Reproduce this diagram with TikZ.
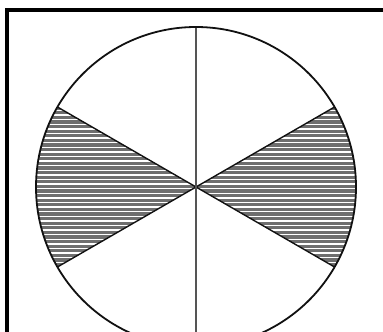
\documentclass[tikz,border=0pt]{standalone}
\usepackage{tikz}
\definecolor{ink}   {HTML}{111111}
\definecolor{rule}  {HTML}{555555}
\definecolor{stripe}{HTML}{6E6E6E}

\tikzset{
  frameline/.style={draw=black, line width=4pt},
  rimline/.style={draw=ink, line width=1.8pt},
  spokeline/.style={draw=ink, line width=1.4pt},
  axisline/.style={draw=rule, line width=2.2pt},
  hatchline/.style={draw=stripe, line width=3.1pt}
}

\begin{document}
\begin{tikzpicture}[x=1pt, y=1pt]
  \useasboundingbox (0,0) rectangle (383,332);
  \clip (0,0) rectangle (383,332);
  \coordinate (c) at (196,145);
  % shaded sectors
  \begin{scope}
    \clip (c) -- ++(-30:160) arc[start angle=-30, end angle=30, radius=160] -- cycle
          (c) -- ++(150:160) arc[start angle=150, end angle=210, radius=160] -- cycle;
    \foreach \k in {0,...,72}
      \draw[hatchline] (20,{-20+\k*4.6}) -- ++(350,0);
  \end{scope}
  % spokes
  \draw[spokeline] (c) -- ++(30:160);
  \draw[spokeline] (c) -- ++(-30:160);
  \draw[spokeline] (c) -- ++(150:160);
  \draw[spokeline] (c) -- ++(210:160);
  \draw[axisline] (c) ++(0,160) -- ++(0,-320);
  \draw[rimline] (c) circle[radius=160];
  % frame
  \draw[frameline] (7,-20) -- (7,322) -- (400,322);
\end{tikzpicture}
\end{document}
